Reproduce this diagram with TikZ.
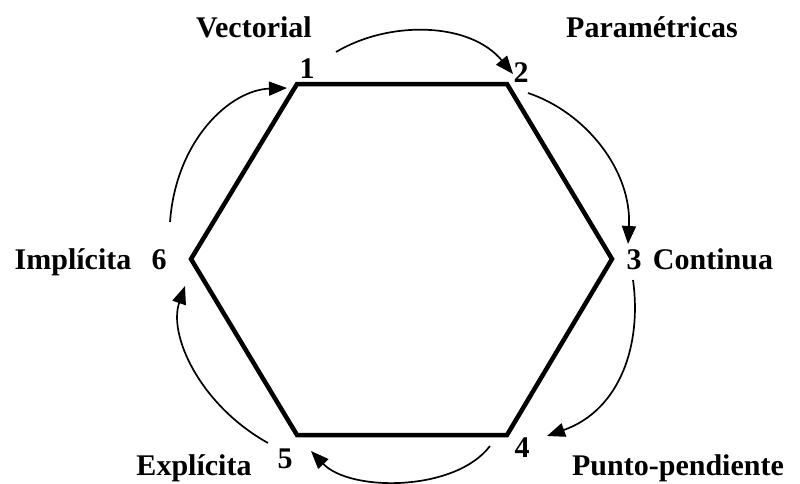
\documentclass[tikz,border=0pt]{standalone}
\usepackage{fontspec}
\setmainfont{Liberation Serif}
\usetikzlibrary{arrows.meta}
\begin{document}
\begin{tikzpicture}[x=1pt,y=-1pt,
  lbl/.style={font=\fontsize{30}{33}\selectfont\bfseries, inner sep=0pt, anchor=base},
  hexline/.style={line width=4.5pt, line join=miter},
  arr/.style={line width=1.7pt, -{Triangle[length=18pt,width=14pt]}}]
\useasboundingbox (0,0) rectangle (800,483);
% hexagon vertices
\coordinate (v1) at (297,84);
\coordinate (v2) at (507,84);
\coordinate (v3) at (612,259);
\coordinate (v4) at (507,435);
\coordinate (v5) at (297,435);
\coordinate (v6) at (191,259);
\draw[hexline] (v1) -- (v2) -- (v3) -- (v4) -- (v5) -- (v6) -- cycle;
% labels
\node[lbl] (tVec) at (254,37) {Vectorial};
\node[lbl] (n1) at (307,78) {1};
\node[lbl] (tPar) at (652,37) {Paramétricas};
\node[lbl] (n2) at (521,82) {2};
\node[lbl] (n3) at (634,269) {3};
\node[lbl] (tCon) at (713,269) {Continua};
\node[lbl] (tImp) at (73,269) {Implícita};
\node[lbl] (n6) at (159,269) {6};
\node[lbl] (n4) at (522,457) {4};
\node[lbl] (n5) at (285,468) {5};
\node[lbl] (tExp) at (194,475) {Explícita};
\node[lbl] (tPun) at (678,475) {Punto-pendiente};
% arrow ends
\coordinate (a1s) at (336,52);  \coordinate (a1e) at (513,74);
\coordinate (a2s) at (528,93);  \coordinate (a2e) at (628,244);
\coordinate (a3s) at (633,280); \coordinate (a3e) at (547,436);
\coordinate (a4s) at (490,446); \coordinate (a4e) at (311,451);
\coordinate (a5s) at (268,443); \coordinate (a5e) at (185,286);
\coordinate (a6s) at (170,222); \coordinate (a6e) at (287,88);
\draw[arr] (a1s) .. controls (390,20) and (470,22) .. (a1e);
\draw[arr] (a2s) .. controls (585,112) and (632,170) .. (a2e);
\draw[arr] (a3s) .. controls (642,345) and (620,410) .. (a3e);
\draw[arr] (a4s) .. controls (455,492) and (350,492) .. (a4e);
\draw[arr] (a5s) .. controls (200,405) and (168,335) .. (a5e);
\draw[arr] (a6s) .. controls (176,140) and (230,90) .. (a6e);
\end{tikzpicture}
\end{document}
